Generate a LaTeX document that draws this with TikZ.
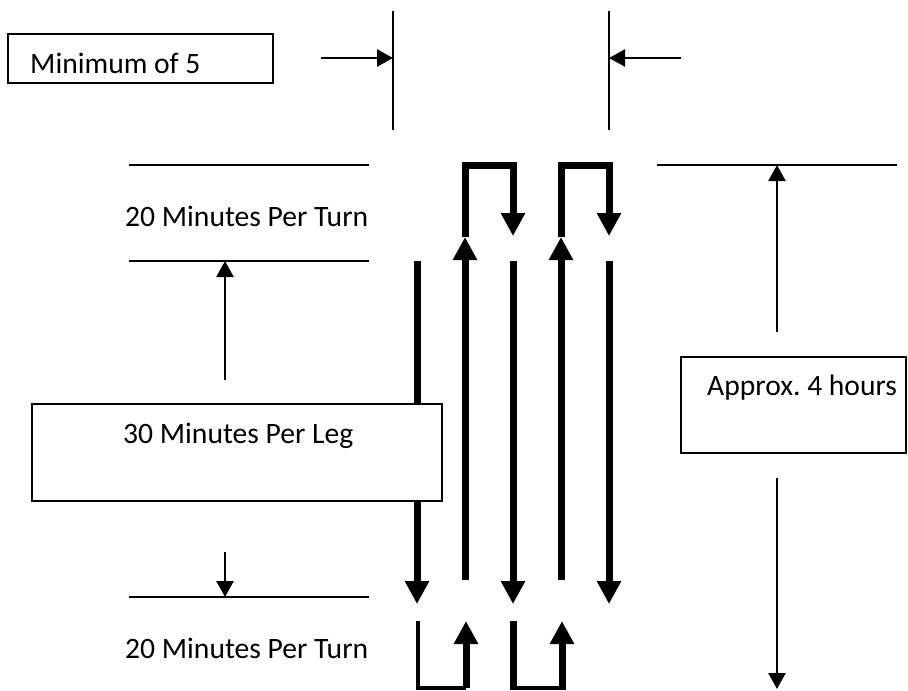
\documentclass[tikz,border=0pt]{standalone}
\usepackage{fontspec}
\setmainfont{Carlito}
\usetikzlibrary{arrows.meta}
\begin{document}
\frenchspacing
\begin{tikzpicture}[x=1pt,y=-1pt,
  thinline/.style={line width=2.5pt},
  thickline/.style={line width=7pt},
  thinarrow/.style={thinline,-{Triangle[width=17pt,length=16pt]}},
  thickarrow/.style={thickline,-{Triangle[width=23pt,length=23pt]}},
  box/.style={draw,line width=2.5pt,fill=white},
  lbl/.style={inner sep=0pt,anchor=base west,font=\fontsize{29.6}{34}\selectfont}]
\useasboundingbox (0,0) rectangle (908,691);

% --- top width markers
\coordinate (wl1) at (393,11); \coordinate (wl2) at (393,130);
\coordinate (wr1) at (609,11); \coordinate (wr2) at (609,130);
\coordinate (awl) at (321,58); \coordinate (awr) at (681,58);
\draw[thinline] (wl1) -- (wl2);
\draw[thinline] (wr1) -- (wr2);
\draw[thinarrow] (awl) -- (awl -| wl1);
\draw[thinarrow] (awr) -- (awr -| wr1);
\draw[box] (8,34) rectangle (273,83);
\node[lbl] (minlbl) at (30,73) {Minimum of 5};

% --- horizontal guide lines
\coordinate (h1a) at (129,165); \coordinate (h1b) at (369,165);
\coordinate (h2a) at (129,261); \coordinate (h2b) at (369,261);
\coordinate (h3a) at (129,597); \coordinate (h3b) at (369,597);
\coordinate (h4a) at (657,165); \coordinate (h4b) at (897,165);
\draw[thinline] (h1a) -- (h1b);
\draw[thinline] (h2a) -- (h2b);
\draw[thinline] (h3a) -- (h3b);
\draw[thinline] (h4a) -- (h4b);
\node[lbl] (turntop) at (125,226) {20 Minutes Per Turn};
\node[lbl] (turnbot) at (125,658) {20 Minutes Per Turn};

% --- legs
\foreach \x/\n in {417/1,513/3,609/5}{
  \coordinate (d\n a) at (\x,261); \coordinate (d\n b) at (\x,604);
  \draw[thickarrow] (d\n a) -- (d\n b);
}
\foreach \x/\n in {465/2,561/4}{
  \coordinate (u\n a) at (\x,580); \coordinate (u\n b) at (\x,237);
  \draw[thickarrow] (u\n a) -- (u\n b);
}

% --- top turns
\coordinate (t1a) at (465,237); \coordinate (t1b) at (513,236);
\coordinate (t2a) at (561,237); \coordinate (t2b) at (609,236);
\draw[thickarrow] (t1a) -- (t1a |- 0,165) -- (t1b |- 0,165) -- (t1b);
\draw[thickarrow] (t2a) -- (t2a |- 0,165) -- (t2b |- 0,165) -- (t2b);

% --- bottom turns
\coordinate (b1a) at (418,621); \coordinate (b1c) at (466,688); \coordinate (b1t) at (466,621);
\coordinate (b2a) at (513,621); \coordinate (b2c) at (562,688); \coordinate (b2t) at (562,621);
\draw[line width=3.5pt] (b1a) -- (b1a |- b1c) -- (b1c);
\draw[thickarrow] (b1c) -- (b1t);
\draw[thickline] (b2a) -- (b2a |- b2c);
\draw[line width=3.5pt] ([xshift=-3.5pt]b2a |- b2c) -- ([xshift=3.5pt]b2c);
\draw[thickarrow] ([yshift=1.5pt]b2c) -- (b2t);

% --- left leg-time arrows
\coordinate (la1) at (225,380); \coordinate (la2) at (225,552);
\draw[thinarrow] (la1) -- (la1 |- h2a);
\draw[thinarrow] (la2) -- (la2 |- h3a);
\draw[box] (32,404) rectangle (442,501);
\node[lbl] (leglbl) at (123,443) {30 Minutes Per Leg};

% --- right total-time arrows
\coordinate (ra1) at (777,332); \coordinate (ra2) at (777,478); \coordinate (ra3) at (777,689);
\draw[thinarrow] (ra1) -- (ra1 |- h4a);
\draw[thinarrow] (ra2) -- (ra3);
\draw[box] (681,357) rectangle (906,453);
\node[lbl] (totlbl) at (707,395) {Approx. 4 hours};
\end{tikzpicture}
\end{document}
